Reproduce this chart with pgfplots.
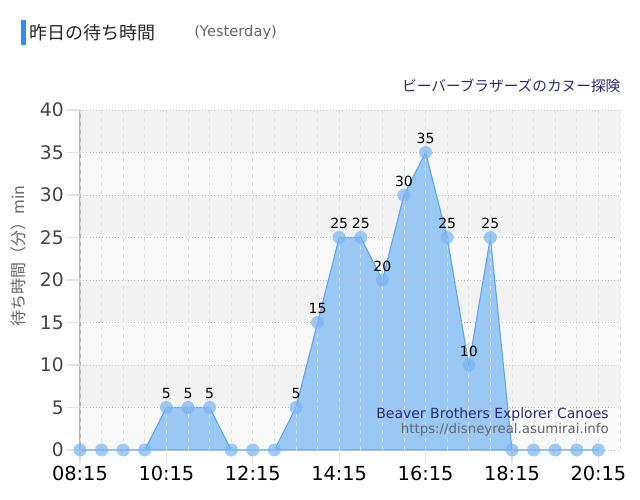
\documentclass[border=0pt]{standalone}
\usepackage{pgfplots}
\pgfplotsset{compat=1.18}
\usepackage{fontspec}
\setmainfont{DejaVu Sans}
\newfontfamily\cjk{Noto Sans CJK JP}

\definecolor{barblue}{HTML}{2B90F5}
\definecolor{linec}{HTML}{5CA3F0}
\definecolor{fillc}{HTML}{99C8F5}
\definecolor{markc}{HTML}{78B5F2}
\definecolor{bandD}{HTML}{F2F2F2}
\definecolor{bandL}{HTML}{F9F9F9}
\definecolor{navy}{HTML}{2A2A7A}
\definecolor{ytc}{HTML}{444444}
\definecolor{greyt}{HTML}{666666}

\begin{document}
\begin{tikzpicture}[x=1pt,y=1pt]
\path[use as bounding box, fill=white] (0,0) rectangle (480,375);

% header
\fill[barblue] (15.75,341.25) rectangle (19.5,360);
\node[anchor=west, inner sep=0pt, text=black!85, font=\cjk\fontsize{13.5}{15}\selectfont] at (21.75,350.5) {昨日の待ち時間};
\node[anchor=west, inner sep=0pt, text=greyt, font=\fontsize{11}{13}\selectfont] at (145.5,351) {(Yesterday)};
\node[anchor=east, inner sep=0pt, text=navy, font=\cjk\fontsize{11}{13}\selectfont] at (465.5,310.5) {ビーバーブラザーズのカヌー探険};

\begin{axis}[
  at={(60pt,37.5pt)}, anchor=south west,
  width=405pt, height=255pt, scale only axis,
  xmin=8.25, xmax=20.75, ymin=0, ymax=40,
  axis line style={draw=none},
  axis on top,
  xtick={8.25,10.25,12.25,14.25,16.25,18.25,20.25},
  xticklabels={08:15,10:15,12:15,14:15,16:15,18:15,20:15},
  minor xtick={8.75,9.25,9.75,10.75,11.25,11.75,12.75,13.25,13.75,14.75,15.25,15.75,16.75,17.25,17.75,18.75,19.25,19.75,20.75},
  ytick={0,5,...,40},
  xtick pos=bottom, ytick pos=left,
  tick align=outside,
  major tick length=10pt, minor tick length=0pt,
  tick style={black!12, line width=0.8pt},
  xmajorgrids, xminorgrids, ymajorgrids,
  x grid style={black!12, dashed, line width=0.6pt},
  y grid style={black!25, dotted, line width=0.7pt},
  /pgf/number format/assume math mode=true,
  yticklabel style={font=\fontsize{14}{16}\selectfont, text=ytc, inner sep=2pt},
  xticklabel style={font=\fontsize{14.5}{16}\selectfont, text=black, inner sep=2pt},
  clip=false,
]
\fill[bandL] (axis cs:8.25,0) rectangle (axis cs:20.75,5);
\fill[bandD] (axis cs:8.25,5) rectangle (axis cs:20.75,10);
\fill[bandL] (axis cs:8.25,10) rectangle (axis cs:20.75,15);
\fill[bandD] (axis cs:8.25,15) rectangle (axis cs:20.75,20);
\fill[bandL] (axis cs:8.25,20) rectangle (axis cs:20.75,25);
\fill[bandD] (axis cs:8.25,25) rectangle (axis cs:20.75,30);
\fill[bandL] (axis cs:8.25,30) rectangle (axis cs:20.75,35);
\fill[bandD] (axis cs:8.25,35) rectangle (axis cs:20.75,40);

\addplot[color=linec, line width=0.8pt, fill=fillc, mark=none]
  table[x=t, y=w] {
t w
8.25 0
8.75 0
9.25 0
9.75 0
10.25 5
10.75 5
11.25 5
11.75 0
12.25 0
12.75 0
13.25 5
13.75 15
14.25 25
14.75 25
15.25 20
15.75 30
16.25 35
16.75 25
17.25 10
17.75 25
18.25 0
18.75 0
19.25 0
19.75 0
20.25 0
} \closedcycle;

\addplot[only marks, color=markc, mark=*, mark size=4.9pt,
  mark options={draw opacity=0, fill=markc, fill opacity=0.7},
  nodes near coords, point meta=explicit symbolic,
  nodes near coords style={anchor=south, yshift=3pt, text=black, text opacity=1, font=\fontsize{10.5}{12}\selectfont}]
  table[x=t, y=w, meta=lab] {
t w lab
8.25 0 {}
8.75 0 {}
9.25 0 {}
9.75 0 {}
10.25 5 5
10.75 5 5
11.25 5 5
11.75 0 {}
12.25 0 {}
12.75 0 {}
13.25 5 5
13.75 15 15
14.25 25 25
14.75 25 25
15.25 20 20
15.75 30 30
16.25 35 35
16.75 25 25
17.25 10 10
17.75 25 25
18.25 0 {}
18.75 0 {}
19.25 0 {}
19.75 0 {}
20.25 0 {}
};

\draw[black!30, line width=0.8pt] (rel axis cs:0,0) -- (rel axis cs:0,1);
\end{axis}

\node[rotate=90, text=greyt, font=\cjk\fontsize{12}{14}\selectfont] at (14,183) {待ち時間（分）min};
\node[anchor=east, inner sep=0pt, text=navy, font=\fontsize{10.5}{12}\selectfont] at (456.75,64) {Beaver Brothers Explorer Canoes};
\node[anchor=east, inner sep=0pt, text=greyt, font=\fontsize{10}{12}\selectfont] at (456.75,52.5) {https://disneyreal.asumirai.info};
\end{tikzpicture}
\end{document}
